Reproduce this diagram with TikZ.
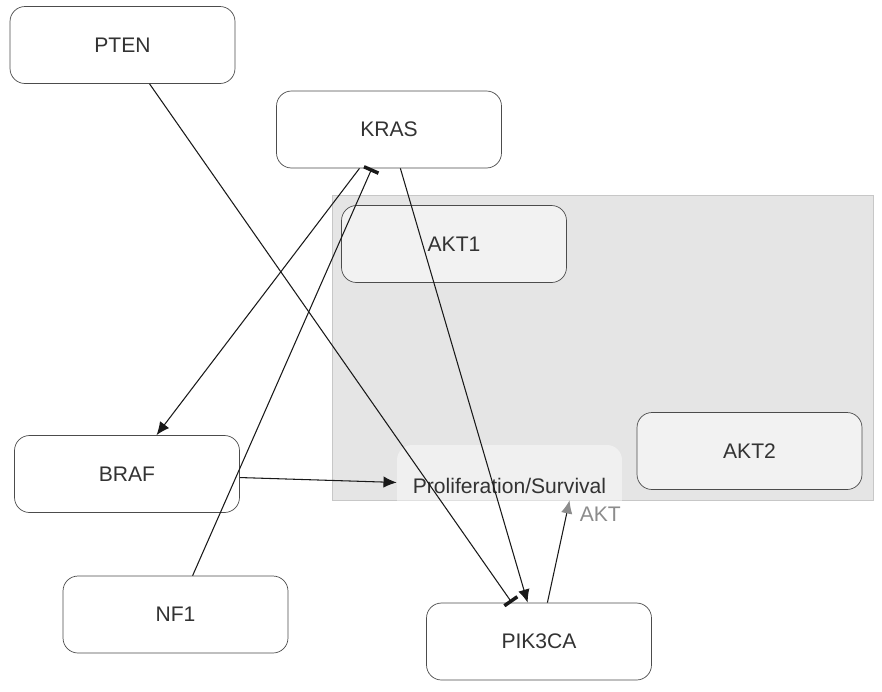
\documentclass[tikz,border=0pt]{standalone}
\usepackage{fontspec}
\setmainfont{Liberation Sans}
\usetikzlibrary{arrows.meta}

\begin{document}
\begin{tikzpicture}[x=0.02cm,y=-0.02cm,>={Latex[length=7.5pt,width=6.5pt]},
    gene/.style={draw=black!70,rounded corners=0.3cm,fill=white,minimum width=4.5cm,
      minimum height=1.54cm,text=black!80,font=\fontsize{12}{14}\selectfont},
    member/.style={gene,fill=black!5},
    inhib/.style={-{Bar[width=9pt,line width=2pt]}},
    edge/.style={line width=0.6pt,black!90}]
    \useasboundingbox (0,0) rectangle (882,691);
    % AKT group
    \node[draw=black!22,fill=black!10,minimum width=10.82cm,minimum height=6.1cm] (akt) at (602.5,347.5) {};
    \node[member] (akt1) at (454,244) {AKT1};
    \node[member] (akt2) at (749.5,451) {AKT2};
    \node[gene,draw=none,fill=white,fill opacity=0.45,text opacity=1,minimum height=1.64cm] (prolif) at (509.5,486) {Proliferation/Survival};
    % genes
    \node[gene] (pten) at (122.5,45) {PTEN};
    \node[gene] (kras) at (389,129.5) {KRAS};
    \node[gene] (braf) at (127,474) {BRAF};
    \node[gene] (nf1) at (175.5,614.5) {NF1};
    \node[gene] (pik3ca) at (539,641.5) {PIK3CA};
    % interactions
    \draw[edge,inhib] (pten) -- (pik3ca);
    \draw[edge,->] (kras) -- (braf);
    \draw[edge,inhib] (nf1) -- (kras);
    \draw[edge,->] (kras) -- (pik3ca);
    \draw[edge,->] (braf) -- (prolif);
    \draw[edge,-{Latex[length=7.5pt,width=6.5pt,color=black!45]}] (pik3ca) -- (akt)
      node[pos=0.86,right=4pt,text=black!45,font=\fontsize{12}{14}\selectfont] {AKT};
\end{tikzpicture}
\end{document}
